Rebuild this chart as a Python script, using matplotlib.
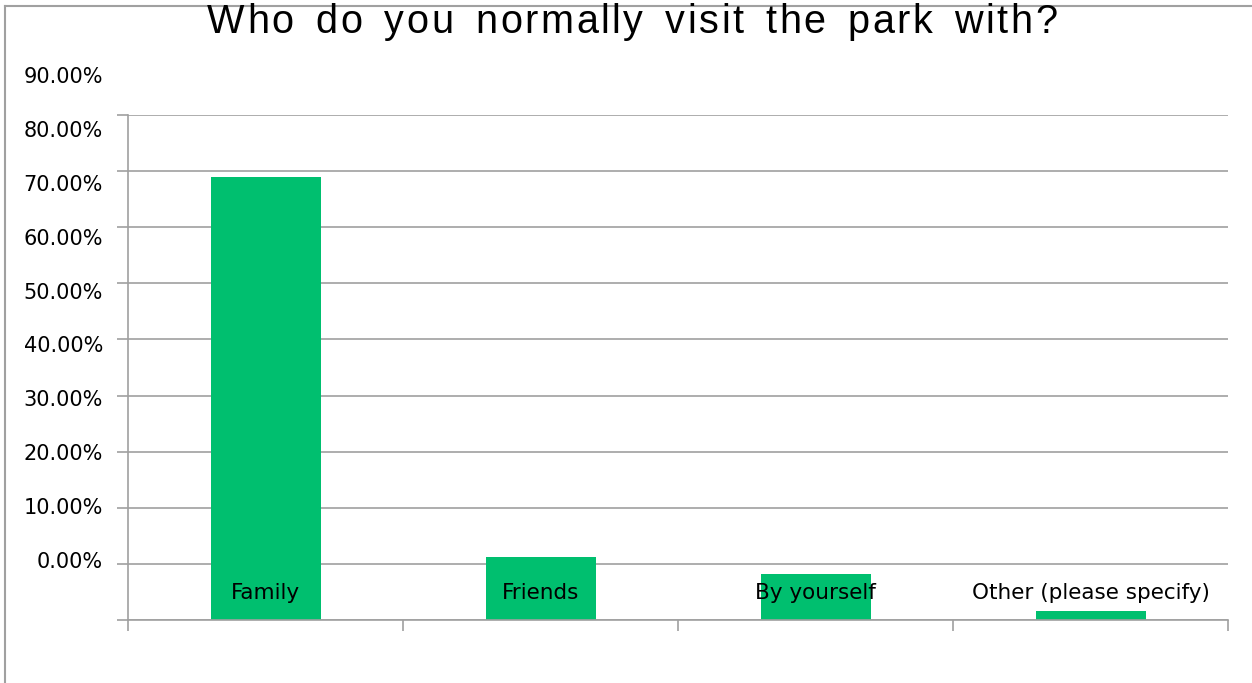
import matplotlib.pyplot as plt
from matplotlib.lines import Line2D
from matplotlib.transforms import blended_transform_factory

# данные (высота столбцов в единицах сетки: низ оси = 0, шаг сетки = 10)
categories = ['Family', 'Friends', 'By yourself', 'Other (please specify)']
values = [79.0, 11.2, 8.2, 1.6]
tick_values = [0, 10, 20, 30, 40, 50, 60, 70, 80, 90]
tick_labels = ['%.2f%%' % v for v in tick_values]
title = 'Who do you normally visit the park with?'

W, H = 1252, 683
fig = plt.figure(figsize=(W / 100, H / 100), dpi=100)
ax = fig.add_axes([128 / W, 63 / H, 1100 / W, 505 / H])

grey = '#a0a0a0'
green = '#00bf6f'

x = [i + 0.5 for i in range(len(categories))]
ax.bar(x, values, width=0.4, color=green, zorder=2)
ax.set_xlim(0, 4)
ax.set_ylim(0, 90)

# сетка
ax.set_yticks(range(0, 91, 10))
ax.yaxis.grid(True, color=grey, lw=1.2)
ax.set_axisbelow(True)
ax.tick_params(axis='y', length=8, width=1.2, color=grey, labelleft=False)
ax.set_xticks(range(0, 5))
ax.tick_params(axis='x', length=8, width=1.2, color=grey, labelbottom=False)
for s in ['top', 'right']:
    ax.spines[s].set_visible(False)
for s in ['left', 'bottom']:
    ax.spines[s].set_color(grey)
    ax.spines[s].set_linewidth(1.2)

# подписи категорий внутри столбцов
for xi, name in zip(x, categories):
    ax.text(xi, 4.8, name, ha='center', va='center', fontsize=15.5, zorder=3)

# подписи оси y (смещены относительно сетки, как в оригинале)
ax2 = ax.twinx()
ax2.set_ylim(-10.76, 82.95)
ax2.axis('off')
tr = blended_transform_factory(ax.transAxes, ax2.transData)
for v, lab in zip(tick_values, tick_labels):
    ax2.text(-0.0227, v, lab, transform=tr, ha='right', va='center',
             fontsize=15, clip_on=False)

# заголовок с разрядкой
renderer = fig.canvas.get_renderer()
tfont = dict(fontsize=28.5, family='Liberation Sans')

def text_w(s):
    t = fig.text(0, 0, s, **tfont)
    w = t.get_window_extent(renderer).width
    t.remove()
    return w

bar_w = text_w('|')
adv = [text_w(title[:i] + '|') - bar_w for i in range(len(title) + 1)]
track = 2.5
n_sp = title.count(' ')
word_extra = (850 - adv[-1] - track * (len(title) - 1)) / n_sp
x0 = 632 - 850 / 2
shift = 0.0
for i, ch in enumerate(title):
    if ch == ' ':
        shift += word_extra
        continue
    fig.text((x0 + adv[i] + track * i + shift) / W, 1 - 33 / H, ch, ha='left',
             va='baseline', **tfont)

# рамка области диаграммы
fig.add_artist(Line2D([5 / W, 1], [1 - 6 / H, 1 - 6 / H], color=grey, lw=1.5,
                      transform=fig.transFigure))
fig.add_artist(Line2D([5 / W, 5 / W], [0, 1 - 6 / H], color=grey, lw=1.5,
                      transform=fig.transFigure))

fig.savefig('out.png', dpi=100)
